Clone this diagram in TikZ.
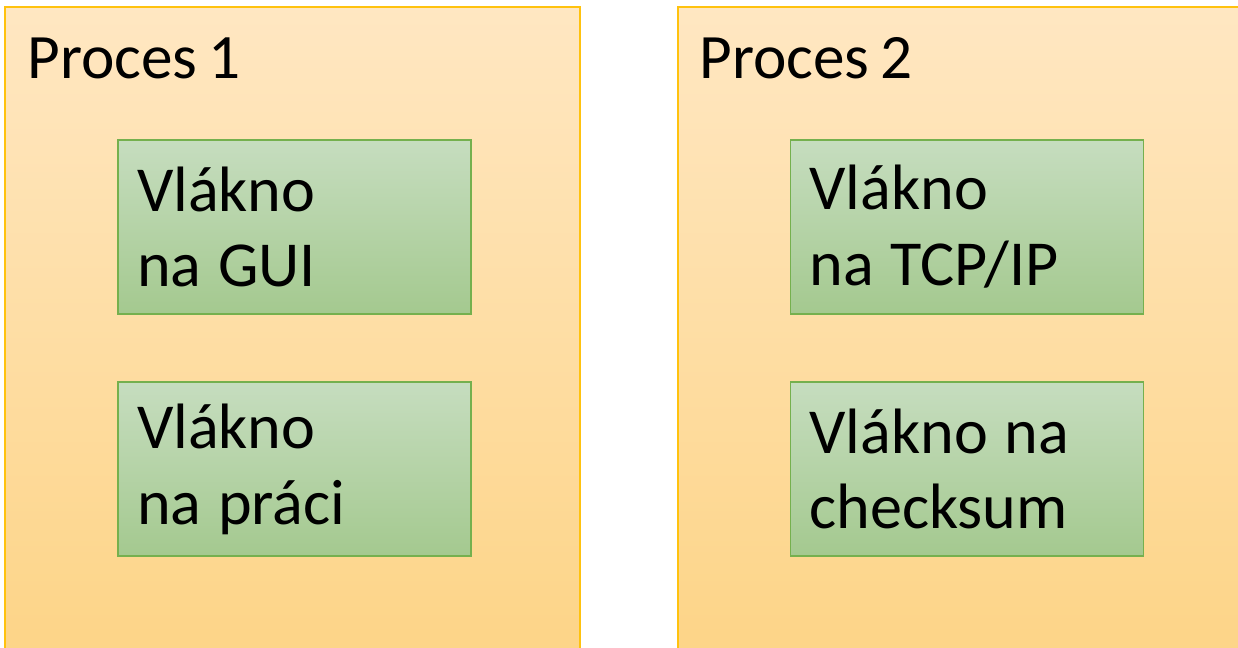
\documentclass[tikz,border=0pt]{standalone}
\usepackage{fontspec}
\setmainfont{Carlito}[WordSpace=0.8]
\usetikzlibrary{positioning}

\definecolor{procTop}{HTML}{FFE7C2}
\definecolor{procBot}{HTML}{FDD486}
\definecolor{procLine}{HTML}{FFC20E}
\definecolor{vlTop}{HTML}{C6DDBF}
\definecolor{vlBot}{HTML}{A4C98F}
\definecolor{vlLine}{HTML}{75B04E}

\begin{document}
\begin{tikzpicture}[x=0.02cm,y=-0.02cm,node distance=4.84cm,on grid,
    proces/.style={rectangle, draw=procLine, line width=1pt, top color=procTop, bottom color=procBot,
        minimum width=11.5cm, minimum height=13.2cm},
    nadpis/.style={font=\fontsize{36}{43}\selectfont, inner sep=0pt, anchor=base west},
    vlakno/.style={rectangle, draw=vlLine, line width=0.8pt, top color=vlTop, bottom color=vlBot,
        text width=6.3cm, align=left, inner xsep=0.38cm, minimum height=3.48cm,
        font=\fontsize{36.5}{43.2}\selectfont,
        execute at begin node={\spaceskip=0.26em\relax}}]
        \useasboundingbox (0,0) rectangle (1238,647);

        \node[proces]   (p_1)   at (292.5,337)                      {};
        \node[proces, minimum width=11.44cm]   (p_2)   at (964,337) {};
        \node[nadpis]   (t_1)   at (27,78)                          {Proces 1};
        \node[nadpis]   (t_2)   at (699,78)                         {Proces 2};

        \node[vlakno]   (gui)   at (294.5,227)                      {Vlákno\\na GUI};
        \node[vlakno]   (prace) [below=of gui]                      {Vlákno\\na práci};
        \node[vlakno]   (tcp)   [right=13.45cm of gui]              {Vlákno\\na TCP/IP};
        \node[vlakno]   (check) [below=of tcp]                      {Vlákno na\\checksum};
    \end{tikzpicture}
\end{document}
